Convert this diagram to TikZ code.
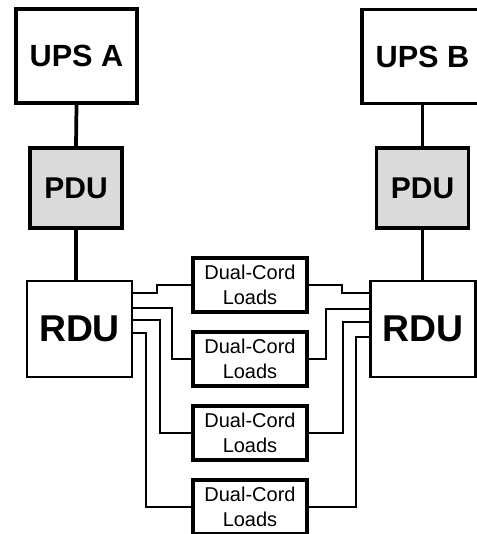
\documentclass[tikz,border=0pt]{standalone}
\usepackage{fontspec}
\setmainfont{Liberation Sans}
\usepackage{tikz}

\begin{document}
\begin{tikzpicture}[x=0.75pt,y=0.75pt,yscale=-1,xscale=1,
  upsbox/.style={draw, line width=2.6pt, inner sep=0pt, minimum width=90.75pt, minimum height=70.5pt, font=\fontsize{23}{27}\selectfont\bfseries},
  pdubox/.style={draw, line width=2.6pt, inner sep=0pt, minimum width=69pt, minimum height=60pt, fill={rgb, 255:red, 218; green, 218; blue, 218 }, font=\fontsize{22.5}{26}\selectfont\bfseries},
  rdubox/.style={draw, line width=1.6pt, inner sep=0pt, minimum width=78.75pt, minimum height=72pt, font=\fontsize{28}{33}\selectfont\bfseries},
  loadbox/.style={draw, line width=2.6pt, inner sep=0pt, minimum width=85.5pt, minimum height=40.5pt, align=center, font=\fontsize{15}{19}\selectfont},
  link/.style={line width=2.8pt},
  wire/.style={line width=1.2pt}]
%set diagram to the size of the reference
\useasboundingbox (0,0) rectangle (476,534);

%Shape: UPS
\node [upsbox] (upsa) at (76.5,56) {UPS A};
\node [upsbox] (upsb) at (422.5,56.5) {UPS B};
%Shape: PDU
\node [pdubox] (pdua) at (76,188) {PDU};
\node [pdubox] (pdub) at (422.5,188) {PDU};
%Shape: RDU
\node [rdubox] (rdua) at (79.5,329) {RDU};
\node [rdubox] (rdub) at (423,329) {RDU};
%Shape: Dual-Cord Loads
\node [loadbox] (load1) at (250,285) {Dual-Cord\\Loads};
\node [loadbox] (load2) at (250,359) {Dual-Cord\\Loads};
\node [loadbox] (load3) at (250,433) {Dual-Cord\\Loads};
\node [loadbox] (load4) at (250,507) {Dual-Cord\\Loads};

%Straight Lines: UPS to PDU to RDU
\draw [link] (upsa.south) -- (pdua.north) ;
\draw [link] (upsb.south) -- (pdub.north) ;
\draw [link] (pdua.south) -- (pdua.south |- rdua.north) ;
\draw [link] (pdub.south) -- (pdub.south |- rdub.north) ;

%Straight Lines: RDU A to loads
\draw [wire] (rdua.east |- 0,293) -- (157,293) |- (load1.west) ;
\draw [wire] (rdua.east |- 0,308) -- (172,308) |- (load2.west) ;
\draw [wire] (rdua.east |- 0,320) -- (160,320) |- (load3.west) ;
\draw [wire] (rdua.east |- 0,333) -- (146,333) |- (load4.west) ;
%Straight Lines: loads to RDU B
\draw [wire] (load1.east) -| (342,293) -- (rdub.west |- 0,293) ;
\draw [wire] (load2.east) -| (326,309) -- (rdub.west |- 0,309) ;
\draw [wire] (load3.east) -| (343,322) -- (rdub.west |- 0,322) ;
\draw [wire] (load4.east) -| (356,337) -- (rdub.west |- 0,337) ;

\end{tikzpicture}
\end{document}
